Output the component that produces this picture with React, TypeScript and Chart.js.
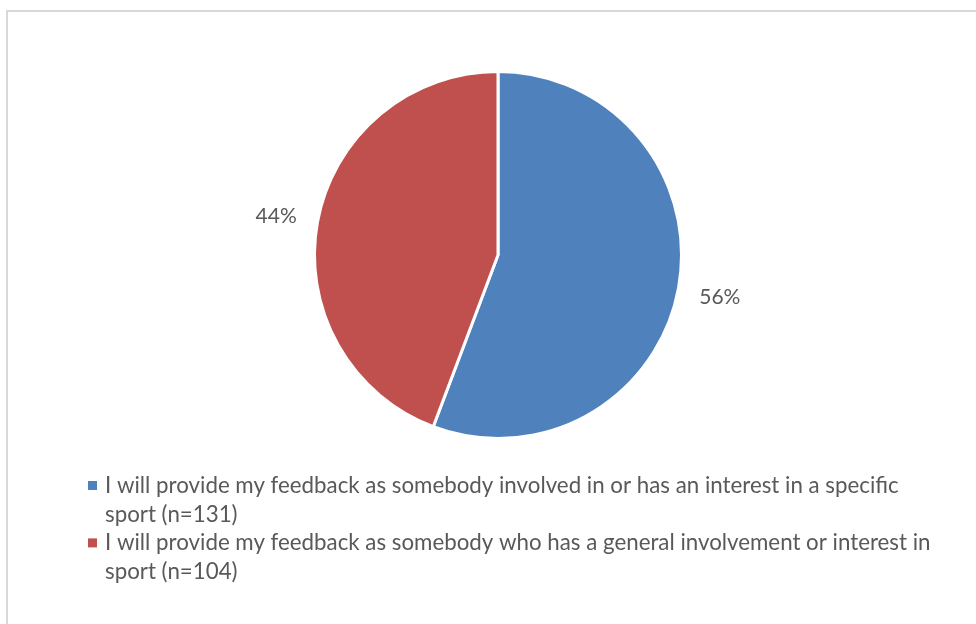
import React, { useEffect, useRef } from "react";
import { Chart, registerables } from "chart.js";

Chart.register(...registerables);

const categories = [
  "I will provide my feedback as somebody involved in or has an interest in a specific sport (n=131)",
  "I will provide my feedback as somebody who has a general involvement or interest in sport (n=104)",
];
const counts = [131, 104];
const sliceColors = ["#4F81BD", "#C0504D"];

const FONT = "Lato, 'Open Sans', sans-serif";
const TEXT_COLOR = "#595959";

const outsideLabels = {
  id: "outsideLabels",
  afterDatasetsDraw(chart: any) {
    const ctx = chart.ctx as CanvasRenderingContext2D;
    const meta = chart.getDatasetMeta(0);
    const data = chart.data.datasets[0].data as number[];
    const total = data.reduce((a, b) => a + b, 0);
    ctx.save();
    ctx.font = `21px ${FONT}`;
    ctx.fillStyle = TEXT_COLOR;
    ctx.textAlign = "center";
    ctx.textBaseline = "middle";
    meta.data.forEach((arc: any, i: number) => {
      const p = arc.getProps(["x", "y", "startAngle", "endAngle", "outerRadius"], true);
      const mid = (p.startAngle + p.endAngle) / 2;
      const r = p.outerRadius + 42;
      const pct = Math.round((data[i] / total) * 100) + "%";
      ctx.fillText(pct, p.x + Math.cos(mid) * r, p.y + Math.sin(mid) * r + 2);
    });

    // legend
    ctx.font = `22.3px ${FONT}`;
    ctx.textAlign = "left";
    ctx.textBaseline = "alphabetic";
    const boxX = 88;
    const textX = 105;
    const maxW = 841;
    const lineH = 28.7;
    let baseline = 493;
    (chart.data.labels as string[]).forEach((label: string, i: number) => {
      const words = label.split(" ");
      const lines: string[] = [];
      let cur = "";
      words.forEach((w) => {
        const test = cur ? cur + " " + w : w;
        if (ctx.measureText(test).width > maxW && cur) {
          lines.push(cur);
          cur = w;
        } else cur = test;
      });
      if (cur) lines.push(cur);
      ctx.fillStyle = sliceColors[i];
      ctx.fillRect(boxX, baseline - 12, 9, 9);
      ctx.fillStyle = TEXT_COLOR;
      lines.forEach((ln) => {
        ctx.fillText(ln, textX, baseline);
        baseline += lineH;
      });
    });
    ctx.restore();
  },
};

export default function App() {
  const ref = useRef<HTMLCanvasElement | null>(null);
  useEffect(() => {
    if (!ref.current) return;
    const chart = new Chart(ref.current, {
      type: "pie",
      data: {
        labels: categories,
        datasets: [
          {
            data: counts,
            backgroundColor: sliceColors,
            borderColor: "#ffffff",
            borderWidth: 3,
          },
        ],
      },
      options: {
        responsive: false,
        animation: false,
        layout: { padding: { top: 70, bottom: 184, left: 313, right: 293 } },
        plugins: {
          legend: { display: false },
          tooltip: { enabled: false },
        },
      },
      plugins: [outsideLabels],
    });
    return () => chart.destroy();
  }, []);

  return (
    <div
      style={{
        position: "fixed",
        left: 0,
        top: 0,
        width: 976,
        height: 624,
        overflow: "hidden",
        background: "#fff",
      }}
    >
      <div
        style={{
          position: "absolute",
          left: 6,
          top: 10,
          width: 1100,
          height: 800,
          border: "2px solid #d9d9d9",
        }}
      />
      <canvas
        ref={ref}
        width={976}
        height={624}
        style={{ position: "absolute", left: 0, top: 0 }}
      />
    </div>
  );
}
